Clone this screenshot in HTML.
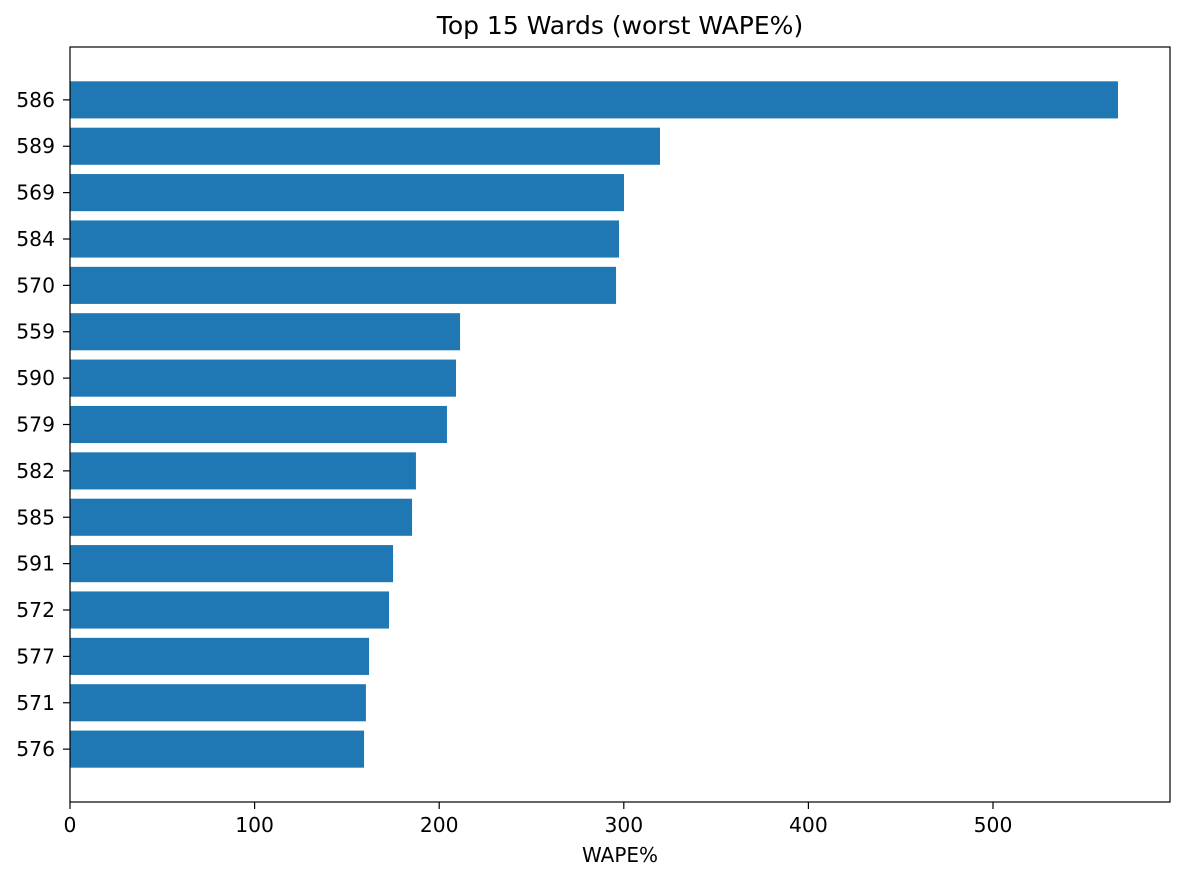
<!DOCTYPE html>
<html><head><meta charset="utf-8"><style>
body{margin:0;background:#fff;}
svg{display:block;font-family:"DejaVu Sans","Liberation Sans",sans-serif;}
</style></head><body>
<svg id="chart" width="1185" height="881">
<text x="620" y="34" font-size="25" text-anchor="middle">Top 15 Wards (worst WAPE%)</text>
<g id="bars"></g><g id="xt"></g><g id="yt"></g>
<rect x="70" y="47" width="1100" height="755" fill="none" stroke="#000" stroke-width="1.2"/>
<text x="620" y="862" font-size="20" text-anchor="middle">WAPE%</text>
</svg>
<script>
const categories=["586","589","569","584","570","559","590","579","582","585","591","572","577","571","576"];
const values=[567.7,319.6,300.1,297.4,295.8,211.3,209.1,204.2,187.4,185.3,175,172.8,162,160.3,159.3];
const xTicks=[0,100,200,300,400,500];
const ns="http://www.w3.org/2000/svg";
const L=70,R=1170,T=47,B=802;
const xMax=(R-L)/1.846;
const x=v=>L+v/xMax*(R-L);
const n=categories.length;
const y0=-0.4-0.74,y1=n-1+0.4+0.74;
const y=i=>T+(i-y0)/(y1-y0)*(B-T);
const step=(B-T)/(y1-y0);
const bars=document.getElementById('bars'),xt=document.getElementById('xt'),yt=document.getElementById('yt');
function mk(t,a,p){const e=document.createElementNS(ns,t);for(const k in a)e.setAttribute(k,a[k]);p.appendChild(e);return e;}
categories.forEach((c,i)=>{
 const r=mk('rect',{x:x(0),y:y(i)-0.4*step,width:x(values[i])-x(0),height:0.8*step,fill:'#1f77b4'},bars);
 
 
 const tk=mk('line',{x1:L-7,x2:L,y1:y(i),y2:y(i),stroke:'#000','stroke-width':1.2},yt);
 
 
 const t=mk('text',{x:L-15,y:y(i)+7,'font-size':20.3,'text-anchor':'end'},yt);
 t.textContent=c;
 
 
});
xTicks.forEach(v=>{
 const tk=mk('line',{x1:x(v),x2:x(v),y1:B,y2:B+7,stroke:'#000','stroke-width':1.2},xt);
 
 
 const t=mk('text',{x:x(v),y:B+30,'font-size':20.3,'text-anchor':'middle'},xt);
 t.textContent=v;
 
 
});
</script>
</body></html>
